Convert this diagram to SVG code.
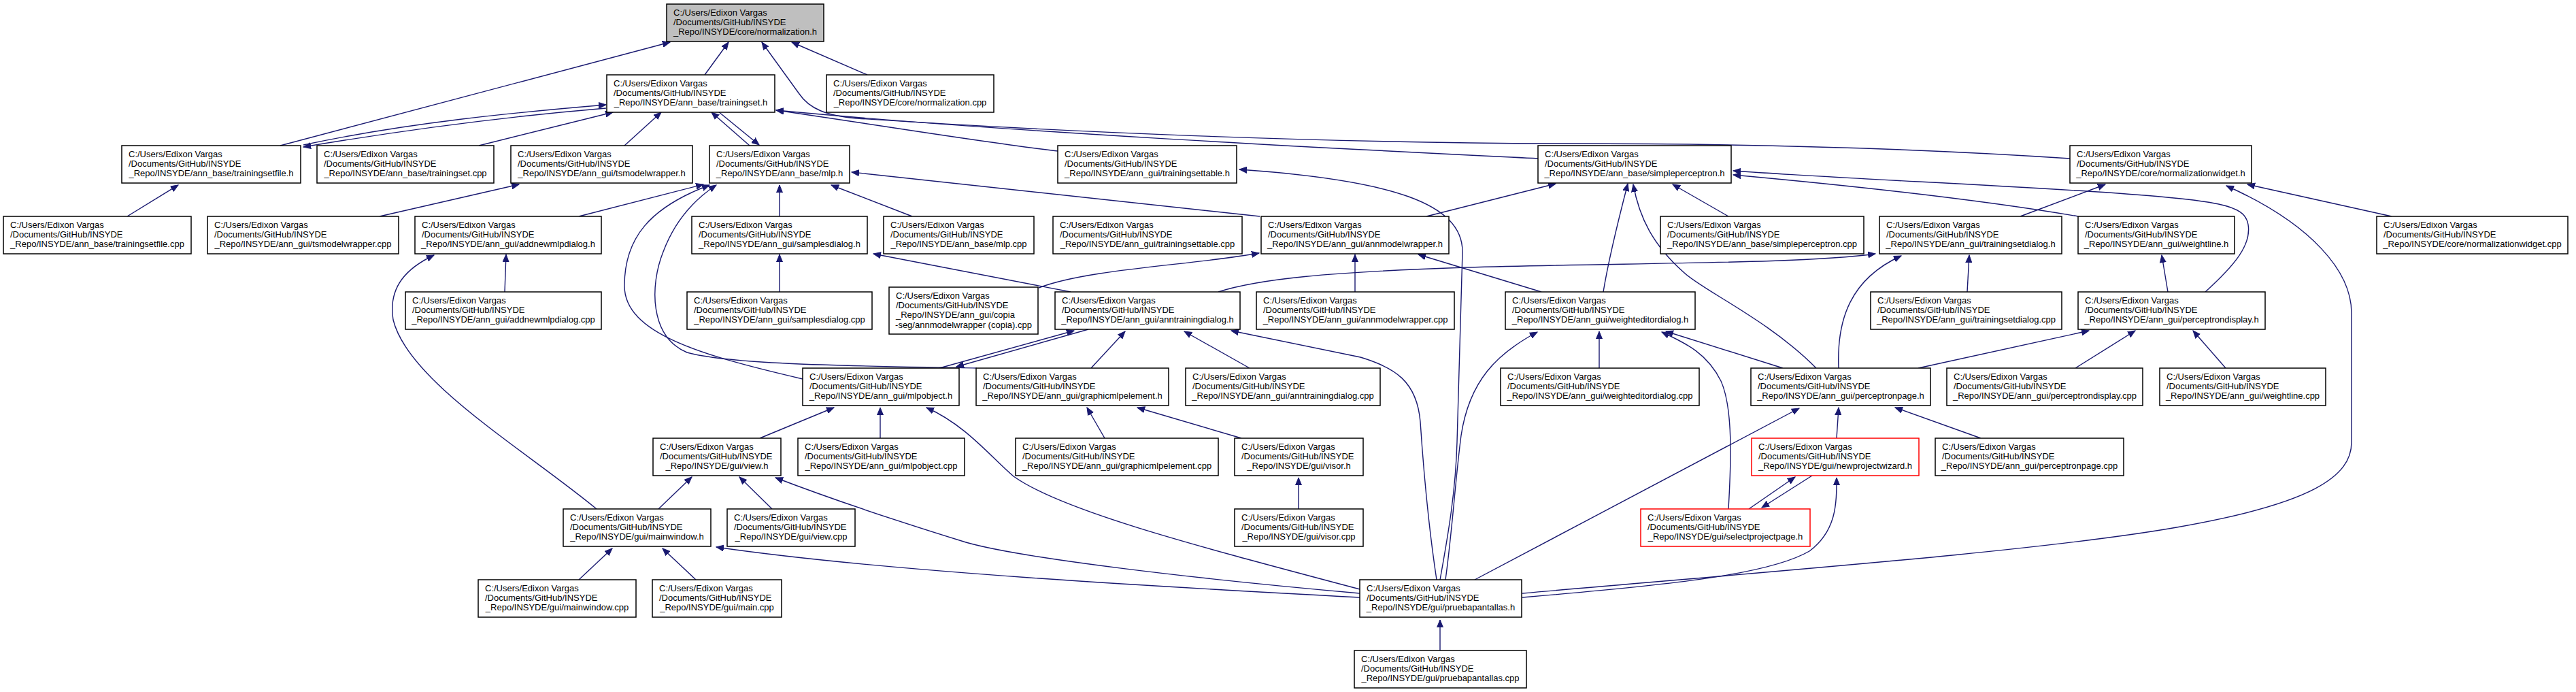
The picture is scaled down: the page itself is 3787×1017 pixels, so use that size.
<svg xmlns="http://www.w3.org/2000/svg" width="3787" height="1017" viewBox="0 0 3787 1017">
<style>
.e{fill:none;stroke:#191970;stroke-width:1.4;marker-end:url(#a)}
.n rect{fill:#fff;stroke:#000;stroke-width:1.5}
.n.r rect{stroke:#ff0000}
.n.g rect{fill:#bfbfbf}
text{font-family:"Liberation Sans",Arial,sans-serif;font-size:13px;fill:#000}
.m{text-anchor:middle}
</style>
<defs>
<marker id="a" markerWidth="12" markerHeight="10" refX="11" refY="5" orient="auto" markerUnits="userSpaceOnUse" viewBox="0 0 12 10"><path d="M0,0.5 L11,5 L0,9.5 z" fill="#191970" stroke="#191970" stroke-width="1"/></marker>
</defs>
<rect width="3787" height="1017" fill="#fff"/>
<g id="edges">
<path class="e" d="M412,214 L985,62"/>
<path class="e" d="M1036,110 L1071,62"/>
<path class="e" d="M3043,233 C2850,220 2600,211 2300,211 C1900,210 1500,190 1260,174 C1215,170 1190,160 1175,138 L1120,62"/>
<path class="e" d="M1275,110 L1164,62"/>
<path class="e" d="M446,213 C600,180 760,165 891,154"/>
<path class="e" d="M891,159 C760,170 600,190 446,216"/>
<path class="e" d="M704,214 L901,165"/>
<path class="e" d="M918,214 L972,165"/>
<path class="e" d="M1102,214 L1046,165"/>
<path class="e" d="M1056,164 L1116,213"/>
<path class="e" d="M2261,233 C2000,220 1500,196 1141,162"/>
<path class="e" d="M1555,222 C1450,210 1300,185 1141,162"/>
<path class="e" d="M187,318 L262,272"/>
<path class="e" d="M558,318 L763,271"/>
<path class="e" d="M851,318 L1034,271"/>
<path class="e" d="M1180,557 C1030,522 918,490 918,420 C918,350 955,305 1043,272"/>
<path class="e" d="M1436,541 C1300,538 1080,538 1010,518 C955,495 955,420 975,370 C990,330 1015,297 1053,272"/>
<path class="e" d="M1146,318 L1146,272"/>
<path class="e" d="M1341,318 L1222,272"/>
<path class="e" d="M1852,318 L1252,253"/>
<path class="e" d="M742,429 L744,374"/>
<path class="e" d="M877,748 C770,660 600,560 578,470 C570,420 600,393 638,375"/>
<path class="e" d="M1146,429 L1146,374"/>
<path class="e" d="M1574,429 L1284,373"/>
<path class="e" d="M1527,423 C1600,395 1750,390 1851,372"/>
<path class="e" d="M1791,429 C1850,410 1950,400 2155,393 C2400,386 2650,388 2757,373"/>
<path class="e" d="M1381,541 L1579,486"/>
<path class="e" d="M1600,484 L1406,539"/>
<path class="e" d="M1604,541 L1654,487"/>
<path class="e" d="M1837,541 L1741,487"/>
<path class="e" d="M2112,852 C2098,760 2092,680 2088,620 C2083,560 2050,540 2000,525 L1810,486"/>
<path class="e" d="M1117,644 L1226,599"/>
<path class="e" d="M1294,644 L1294,599"/>
<path class="e" d="M1999,866 C1750,800 1560,750 1490,700 C1455,670 1420,625 1362,599"/>
<path class="e" d="M1624,644 L1598,599"/>
<path class="e" d="M1825,644 L1672,599"/>
<path class="e" d="M968,748 L1017,701"/>
<path class="e" d="M1135,748 L1087,701"/>
<path class="e" d="M1999,872 C1750,850 1500,820 1420,797 C1300,760 1200,725 1140,702"/>
<path class="e" d="M1023,852 L974,806"/>
<path class="e" d="M1999,878 C1700,862 1300,840 1053,804"/>
<path class="e" d="M851,852 L900,806"/>
<path class="e" d="M1992,429 L1992,374"/>
<path class="e" d="M2266,429 L2085,374"/>
<path class="e" d="M2097,318 L2287,270"/>
<path class="e" d="M2357,429 C2365,380 2380,320 2393,270"/>
<path class="e" d="M2670,541 C2600,470 2500,425 2475,400 C2430,360 2410,320 2401,271"/>
<path class="e" d="M2541,318 L2459,271"/>
<path class="e" d="M3242,429 C3285,390 3310,360 3305,330 C3300,300 3260,295 3100,283 C2900,270 2700,262 2548,251"/>
<path class="e" d="M3055,318 C2950,300 2800,280 2548,257"/>
<path class="e" d="M2970,318 L3095,271"/>
<path class="e" d="M2238,872 C2600,840 3000,810 3200,775 C3400,740 3457,700 3457,650 L3457,460 C3457,400 3400,330 3273,273"/>
<path class="e" d="M3516,318 L3304,271"/>
<path class="e" d="M2892,429 L2895,375"/>
<path class="e" d="M2703,541 C2700,470 2720,410 2795,376"/>
<path class="e" d="M3187,429 L3178,375"/>
<path class="e" d="M2820,541 L3071,486"/>
<path class="e" d="M3051,541 L3139,486"/>
<path class="e" d="M3272,541 L3224,486"/>
<path class="e" d="M2912,644 L2786,599"/>
<path class="e" d="M2351,541 L2351,487"/>
<path class="e" d="M2621,541 L2449,487"/>
<path class="e" d="M2125,852 C2135,780 2140,700 2148,640 C2160,560 2200,520 2260,488"/>
<path class="e" d="M2541,748 C2545,680 2548,600 2530,560 C2510,520 2480,505 2443,488"/>
<path class="e" d="M2700,644 L2703,599"/>
<path class="e" d="M2168,852 L2645,600"/>
<path class="e" d="M2571,748 L2639,701"/>
<path class="e" d="M2664,699 L2590,746"/>
<path class="e" d="M2238,878 C2450,860 2600,845 2660,810 C2700,780 2700,740 2700,702"/>
<path class="e" d="M2117,852 C2130,780 2140,720 2142,650 L2150,370 C2150,300 2050,265 1822,249"/>
<path class="e" d="M2117,956 L2117,911"/>
<path class="e" d="M1909,748 L1909,702"/>
</g>
<g id="n_norm_h" class="n g"><rect x="980" y="6" width="231" height="55"/><text x="990" y="22.5">C:/Users/Edixon Vargas</text><text x="990" y="36.9">/Documents/GitHub/INSYDE</text><text class="m" x="1095.5" y="51.3">_Repo/INSYDE/core/normalization.h</text></g>
<g id="n_trainingset_h" class="n"><rect x="892" y="110" width="247" height="55"/><text x="902" y="126.5">C:/Users/Edixon Vargas</text><text x="902" y="140.9">/Documents/GitHub/INSYDE</text><text class="m" x="1015.5" y="155.3">_Repo/INSYDE/ann_base/trainingset.h</text></g>
<g id="n_norm_cpp" class="n"><rect x="1215" y="110" width="246" height="55"/><text x="1225" y="126.5">C:/Users/Edixon Vargas</text><text x="1225" y="140.9">/Documents/GitHub/INSYDE</text><text class="m" x="1338" y="155.3">_Repo/INSYDE/core/normalization.cpp</text></g>
<g id="n_tsfile_h" class="n"><rect x="179" y="214" width="263" height="55"/><text x="189" y="230.5">C:/Users/Edixon Vargas</text><text x="189" y="244.9">/Documents/GitHub/INSYDE</text><text class="m" x="310.5" y="259.3">_Repo/INSYDE/ann_base/trainingsetfile.h</text></g>
<g id="n_ts_cpp" class="n"><rect x="466" y="214" width="260" height="55"/><text x="476" y="230.5">C:/Users/Edixon Vargas</text><text x="476" y="244.9">/Documents/GitHub/INSYDE</text><text class="m" x="596" y="259.3">_Repo/INSYDE/ann_base/trainingset.cpp</text></g>
<g id="n_tsmodel_h" class="n"><rect x="751" y="214" width="267" height="55"/><text x="761" y="230.5">C:/Users/Edixon Vargas</text><text x="761" y="244.9">/Documents/GitHub/INSYDE</text><text class="m" x="884.5" y="259.3">_Repo/INSYDE/ann_gui/tsmodelwrapper.h</text></g>
<g id="n_mlp_h" class="n"><rect x="1043" y="214" width="206" height="55"/><text x="1053" y="230.5">C:/Users/Edixon Vargas</text><text x="1053" y="244.9">/Documents/GitHub/INSYDE</text><text class="m" x="1146" y="259.3">_Repo/INSYDE/ann_base/mlp.h</text></g>
<g id="n_tstable_h" class="n"><rect x="1555" y="214" width="263" height="55"/><text x="1565" y="230.5">C:/Users/Edixon Vargas</text><text x="1565" y="244.9">/Documents/GitHub/INSYDE</text><text class="m" x="1686.5" y="259.3">_Repo/INSYDE/ann_gui/trainingsettable.h</text></g>
<g id="n_sp_h" class="n"><rect x="2261" y="214" width="284" height="55"/><text x="2271" y="230.5">C:/Users/Edixon Vargas</text><text x="2271" y="244.9">/Documents/GitHub/INSYDE</text><text class="m" x="2403" y="259.3">_Repo/INSYDE/ann_base/simpleperceptron.h</text></g>
<g id="n_nw_h" class="n"><rect x="3043" y="214" width="267" height="55"/><text x="3053" y="230.5">C:/Users/Edixon Vargas</text><text x="3053" y="244.9">/Documents/GitHub/INSYDE</text><text class="m" x="3176.5" y="259.3">_Repo/INSYDE/core/normalizationwidget.h</text></g>
<g id="n_tsfile_cpp" class="n"><rect x="5" y="318" width="276" height="55"/><text x="15" y="334.5">C:/Users/Edixon Vargas</text><text x="15" y="348.9">/Documents/GitHub/INSYDE</text><text class="m" x="143" y="363.3">_Repo/INSYDE/ann_base/trainingsetfile.cpp</text></g>
<g id="n_tsmodel_cpp" class="n"><rect x="305" y="318" width="281" height="55"/><text x="315" y="334.5">C:/Users/Edixon Vargas</text><text x="315" y="348.9">/Documents/GitHub/INSYDE</text><text class="m" x="445.5" y="363.3">_Repo/INSYDE/ann_gui/tsmodelwrapper.cpp</text></g>
<g id="n_addnew_h" class="n"><rect x="610" y="318" width="274" height="55"/><text x="620" y="334.5">C:/Users/Edixon Vargas</text><text x="620" y="348.9">/Documents/GitHub/INSYDE</text><text class="m" x="747" y="363.3">_Repo/INSYDE/ann_gui/addnewmlpdialog.h</text></g>
<g id="n_samples_h" class="n"><rect x="1017" y="318" width="258" height="55"/><text x="1027" y="334.5">C:/Users/Edixon Vargas</text><text x="1027" y="348.9">/Documents/GitHub/INSYDE</text><text class="m" x="1146" y="363.3">_Repo/INSYDE/ann_gui/samplesdialog.h</text></g>
<g id="n_mlp_cpp" class="n"><rect x="1299" y="318" width="221" height="55"/><text x="1309" y="334.5">C:/Users/Edixon Vargas</text><text x="1309" y="348.9">/Documents/GitHub/INSYDE</text><text class="m" x="1409.5" y="363.3">_Repo/INSYDE/ann_base/mlp.cpp</text></g>
<g id="n_tstable_cpp" class="n"><rect x="1548" y="318" width="278" height="55"/><text x="1558" y="334.5">C:/Users/Edixon Vargas</text><text x="1558" y="348.9">/Documents/GitHub/INSYDE</text><text class="m" x="1687" y="363.3">_Repo/INSYDE/ann_gui/trainingsettable.cpp</text></g>
<g id="n_annmw_h" class="n"><rect x="1854" y="318" width="276" height="55"/><text x="1864" y="334.5">C:/Users/Edixon Vargas</text><text x="1864" y="348.9">/Documents/GitHub/INSYDE</text><text class="m" x="1992" y="363.3">_Repo/INSYDE/ann_gui/annmodelwrapper.h</text></g>
<g id="n_sp_cpp" class="n"><rect x="2441" y="318" width="299" height="55"/><text x="2451" y="334.5">C:/Users/Edixon Vargas</text><text x="2451" y="348.9">/Documents/GitHub/INSYDE</text><text class="m" x="2590.5" y="363.3">_Repo/INSYDE/ann_base/simpleperceptron.cpp</text></g>
<g id="n_tsdialog_h" class="n"><rect x="2763" y="318" width="268" height="55"/><text x="2773" y="334.5">C:/Users/Edixon Vargas</text><text x="2773" y="348.9">/Documents/GitHub/INSYDE</text><text class="m" x="2897" y="363.3">_Repo/INSYDE/ann_gui/trainingsetdialog.h</text></g>
<g id="n_weightline_h" class="n"><rect x="3055" y="318" width="230" height="55"/><text x="3065" y="334.5">C:/Users/Edixon Vargas</text><text x="3065" y="348.9">/Documents/GitHub/INSYDE</text><text class="m" x="3170" y="363.3">_Repo/INSYDE/ann_gui/weightline.h</text></g>
<g id="n_nw_cpp" class="n"><rect x="3494" y="318" width="281" height="55"/><text x="3504" y="334.5">C:/Users/Edixon Vargas</text><text x="3504" y="348.9">/Documents/GitHub/INSYDE</text><text class="m" x="3634.5" y="363.3">_Repo/INSYDE/core/normalizationwidget.cpp</text></g>
<g id="n_addnew_cpp" class="n"><rect x="596" y="429" width="288" height="55"/><text x="606" y="445.5">C:/Users/Edixon Vargas</text><text x="606" y="459.9">/Documents/GitHub/INSYDE</text><text class="m" x="740" y="474.3">_Repo/INSYDE/ann_gui/addnewmlpdialog.cpp</text></g>
<g id="n_samples_cpp" class="n"><rect x="1010" y="429" width="272" height="55"/><text x="1020" y="445.5">C:/Users/Edixon Vargas</text><text x="1020" y="459.9">/Documents/GitHub/INSYDE</text><text class="m" x="1146" y="474.3">_Repo/INSYDE/ann_gui/samplesdialog.cpp</text></g>
<g id="n_copia" class="n"><rect x="1307" y="422" width="219" height="69"/><text x="1317" y="438.5">C:/Users/Edixon Vargas</text><text x="1317" y="452.9">/Documents/GitHub/INSYDE</text><text x="1317" y="467.3">_Repo/INSYDE/ann_gui/copia</text><text class="m" x="1416.5" y="481.7">-seg/annmodelwrapper (copia).cpp</text></g>
<g id="n_anntd_h" class="n"><rect x="1551" y="429" width="272" height="55"/><text x="1561" y="445.5">C:/Users/Edixon Vargas</text><text x="1561" y="459.9">/Documents/GitHub/INSYDE</text><text class="m" x="1687" y="474.3">_Repo/INSYDE/ann_gui/anntrainingdialog.h</text></g>
<g id="n_annmw_cpp" class="n"><rect x="1847" y="429" width="291" height="55"/><text x="1857" y="445.5">C:/Users/Edixon Vargas</text><text x="1857" y="459.9">/Documents/GitHub/INSYDE</text><text class="m" x="1992.5" y="474.3">_Repo/INSYDE/ann_gui/annmodelwrapper.cpp</text></g>
<g id="n_wed_h" class="n"><rect x="2213" y="429" width="279" height="55"/><text x="2223" y="445.5">C:/Users/Edixon Vargas</text><text x="2223" y="459.9">/Documents/GitHub/INSYDE</text><text class="m" x="2352.5" y="474.3">_Repo/INSYDE/ann_gui/weighteditordialog.h</text></g>
<g id="n_tsdialog_cpp" class="n"><rect x="2750" y="429" width="281" height="55"/><text x="2760" y="445.5">C:/Users/Edixon Vargas</text><text x="2760" y="459.9">/Documents/GitHub/INSYDE</text><text class="m" x="2890.5" y="474.3">_Repo/INSYDE/ann_gui/trainingsetdialog.cpp</text></g>
<g id="n_pd_h" class="n"><rect x="3055" y="429" width="275" height="55"/><text x="3065" y="445.5">C:/Users/Edixon Vargas</text><text x="3065" y="459.9">/Documents/GitHub/INSYDE</text><text class="m" x="3192.5" y="474.3">_Repo/INSYDE/ann_gui/perceptrondisplay.h</text></g>
<g id="n_mlpobj_h" class="n"><rect x="1180" y="541" width="230" height="55"/><text x="1190" y="557.5">C:/Users/Edixon Vargas</text><text x="1190" y="571.9">/Documents/GitHub/INSYDE</text><text class="m" x="1295" y="586.3">_Repo/INSYDE/ann_gui/mlpobject.h</text></g>
<g id="n_gme_h" class="n"><rect x="1435" y="541" width="283" height="55"/><text x="1445" y="557.5">C:/Users/Edixon Vargas</text><text x="1445" y="571.9">/Documents/GitHub/INSYDE</text><text class="m" x="1576.5" y="586.3">_Repo/INSYDE/ann_gui/graphicmlpelement.h</text></g>
<g id="n_anntd_cpp" class="n"><rect x="1743" y="541" width="286" height="55"/><text x="1753" y="557.5">C:/Users/Edixon Vargas</text><text x="1753" y="571.9">/Documents/GitHub/INSYDE</text><text class="m" x="1886" y="586.3">_Repo/INSYDE/ann_gui/anntrainingdialog.cpp</text></g>
<g id="n_wed_cpp" class="n"><rect x="2206" y="541" width="292" height="55"/><text x="2216" y="557.5">C:/Users/Edixon Vargas</text><text x="2216" y="571.9">/Documents/GitHub/INSYDE</text><text class="m" x="2352" y="586.3">_Repo/INSYDE/ann_gui/weighteditordialog.cpp</text></g>
<g id="n_pp_h" class="n"><rect x="2574" y="541" width="264" height="55"/><text x="2584" y="557.5">C:/Users/Edixon Vargas</text><text x="2584" y="571.9">/Documents/GitHub/INSYDE</text><text class="m" x="2706" y="586.3">_Repo/INSYDE/ann_gui/perceptronpage.h</text></g>
<g id="n_pd_cpp" class="n"><rect x="2862" y="541" width="288" height="55"/><text x="2872" y="557.5">C:/Users/Edixon Vargas</text><text x="2872" y="571.9">/Documents/GitHub/INSYDE</text><text class="m" x="3006" y="586.3">_Repo/INSYDE/ann_gui/perceptrondisplay.cpp</text></g>
<g id="n_weightline_cpp" class="n"><rect x="3175" y="541" width="244" height="55"/><text x="3185" y="557.5">C:/Users/Edixon Vargas</text><text x="3185" y="571.9">/Documents/GitHub/INSYDE</text><text class="m" x="3297" y="586.3">_Repo/INSYDE/ann_gui/weightline.cpp</text></g>
<g id="n_view_h" class="n"><rect x="960" y="644" width="188" height="55"/><text x="970" y="660.5">C:/Users/Edixon Vargas</text><text x="970" y="674.9">/Documents/GitHub/INSYDE</text><text class="m" x="1054" y="689.3">_Repo/INSYDE/gui/view.h</text></g>
<g id="n_mlpobj_cpp" class="n"><rect x="1173" y="644" width="245" height="55"/><text x="1183" y="660.5">C:/Users/Edixon Vargas</text><text x="1183" y="674.9">/Documents/GitHub/INSYDE</text><text class="m" x="1295.5" y="689.3">_Repo/INSYDE/ann_gui/mlpobject.cpp</text></g>
<g id="n_gme_cpp" class="n"><rect x="1493" y="644" width="298" height="55"/><text x="1503" y="660.5">C:/Users/Edixon Vargas</text><text x="1503" y="674.9">/Documents/GitHub/INSYDE</text><text class="m" x="1642" y="689.3">_Repo/INSYDE/ann_gui/graphicmlpelement.cpp</text></g>
<g id="n_visor_h" class="n"><rect x="1815" y="644" width="189" height="55"/><text x="1825" y="660.5">C:/Users/Edixon Vargas</text><text x="1825" y="674.9">/Documents/GitHub/INSYDE</text><text class="m" x="1909.5" y="689.3">_Repo/INSYDE/gui/visor.h</text></g>
<g id="n_npw_h" class="n r"><rect x="2575" y="644" width="246" height="55"/><text x="2585" y="660.5">C:/Users/Edixon Vargas</text><text x="2585" y="674.9">/Documents/GitHub/INSYDE</text><text class="m" x="2698" y="689.3">_Repo/INSYDE/gui/newprojectwizard.h</text></g>
<g id="n_pp_cpp" class="n"><rect x="2845" y="644" width="277" height="55"/><text x="2855" y="660.5">C:/Users/Edixon Vargas</text><text x="2855" y="674.9">/Documents/GitHub/INSYDE</text><text class="m" x="2983.5" y="689.3">_Repo/INSYDE/ann_gui/perceptronpage.cpp</text></g>
<g id="n_mainwindow_h" class="n"><rect x="828" y="748" width="217" height="55"/><text x="838" y="764.5">C:/Users/Edixon Vargas</text><text x="838" y="778.9">/Documents/GitHub/INSYDE</text><text class="m" x="936.5" y="793.3">_Repo/INSYDE/gui/mainwindow.h</text></g>
<g id="n_view_cpp" class="n"><rect x="1069" y="748" width="188" height="55"/><text x="1079" y="764.5">C:/Users/Edixon Vargas</text><text x="1079" y="778.9">/Documents/GitHub/INSYDE</text><text class="m" x="1163" y="793.3">_Repo/INSYDE/gui/view.cpp</text></g>
<g id="n_visor_cpp" class="n"><rect x="1815" y="748" width="189" height="55"/><text x="1825" y="764.5">C:/Users/Edixon Vargas</text><text x="1825" y="778.9">/Documents/GitHub/INSYDE</text><text class="m" x="1909.5" y="793.3">_Repo/INSYDE/gui/visor.cpp</text></g>
<g id="n_spp_h" class="n r"><rect x="2412" y="748" width="249" height="55"/><text x="2422" y="764.5">C:/Users/Edixon Vargas</text><text x="2422" y="778.9">/Documents/GitHub/INSYDE</text><text class="m" x="2536.5" y="793.3">_Repo/INSYDE/gui/selectprojectpage.h</text></g>
<g id="n_mainwindow_cpp" class="n"><rect x="703" y="852" width="232" height="55"/><text x="713" y="868.5">C:/Users/Edixon Vargas</text><text x="713" y="882.9">/Documents/GitHub/INSYDE</text><text class="m" x="819" y="897.3">_Repo/INSYDE/gui/mainwindow.cpp</text></g>
<g id="n_main_cpp" class="n"><rect x="959" y="852" width="190" height="55"/><text x="969" y="868.5">C:/Users/Edixon Vargas</text><text x="969" y="882.9">/Documents/GitHub/INSYDE</text><text class="m" x="1054" y="897.3">_Repo/INSYDE/gui/main.cpp</text></g>
<g id="n_pruebap_h" class="n"><rect x="1999" y="852" width="238" height="55"/><text x="2009" y="868.5">C:/Users/Edixon Vargas</text><text x="2009" y="882.9">/Documents/GitHub/INSYDE</text><text class="m" x="2118" y="897.3">_Repo/INSYDE/gui/pruebapantallas.h</text></g>
<g id="n_pruebap_cpp" class="n"><rect x="1991" y="956" width="253" height="55"/><text x="2001" y="972.5">C:/Users/Edixon Vargas</text><text x="2001" y="986.9">/Documents/GitHub/INSYDE</text><text class="m" x="2117.5" y="1001.3">_Repo/INSYDE/gui/pruebapantallas.cpp</text></g>
</svg>
